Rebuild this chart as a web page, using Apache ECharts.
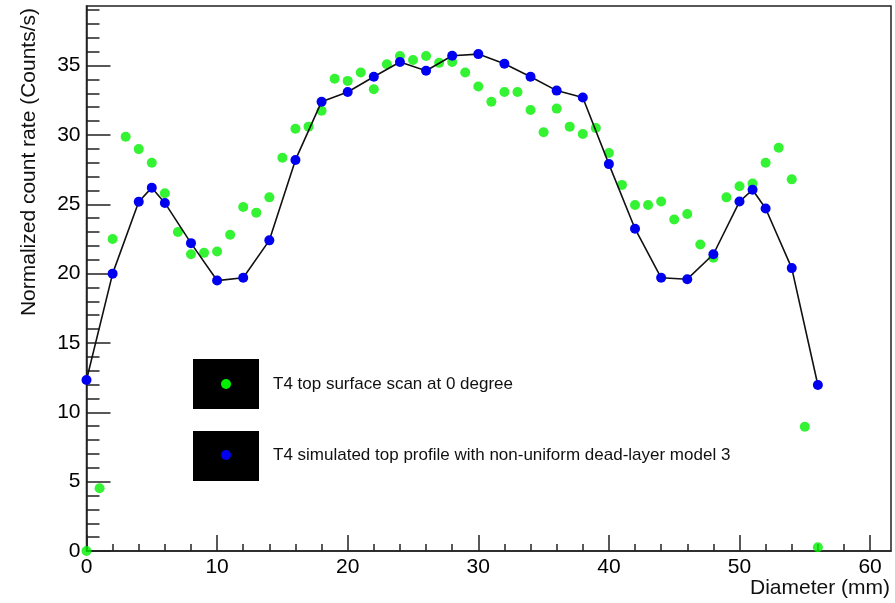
<!DOCTYPE html>
<html>
<head>
<meta charset="utf-8">
<script src="https://cdn.jsdelivr.net/npm/echarts@6/dist/echarts.min.js"></script>
<style>
  html, body { margin: 0; padding: 0; background: #fff; }
  #main { width: 895px; height: 603px; }
</style>
</head>
<body>
<div id="main"></div>
<script>
// 数据: 测量点 (绿色) 和模拟点 (蓝色)
var scanX = [0, 1, 2, 3, 4, 5, 6, 7, 8, 9, 10, 11, 12, 13, 14, 15, 16, 17, 18, 19,
  20, 21, 22, 23, 24, 25, 26, 27, 28, 29, 30, 31, 32, 33, 34, 35, 36, 37, 38, 39,
  40, 41, 42, 43, 44, 45, 46, 47, 48, 49, 50, 51, 52, 53, 54, 55, 56]
var scanY = [0, 4.52, 22.5, 29.87, 28.98, 28.0, 25.8, 23.0, 21.4, 21.5, 21.6, 22.8, 24.8, 24.4, 25.5, 28.36, 30.45, 30.6, 31.75, 34.05,
  33.9, 34.5, 33.3, 35.1, 35.7, 35.4, 35.7, 35.2, 35.26, 34.5, 33.5, 32.4, 33.1, 33.1, 31.8, 30.2, 31.9, 30.6, 30.07, 30.5,
  28.7, 26.4, 24.95, 24.95, 25.2, 23.9, 24.3, 22.1, 21.15, 25.5, 26.3, 26.5, 28.0, 29.08, 26.8, 8.96, 0.27]
var simX = [0, 2, 4, 5, 6, 8, 10, 12, 14, 16, 18, 20, 22, 24, 26, 28, 30, 32, 34, 36, 38,
  40, 42, 44, 46, 48, 50, 51, 52, 54, 56]
var simY = [12.33, 20.0, 25.18, 26.2, 25.1, 22.2, 19.5, 19.7, 22.4, 28.2, 32.4, 33.1, 34.2, 35.26, 34.63, 35.71, 35.83, 35.13, 34.2, 33.2, 32.7,
  27.9, 23.24, 19.7, 19.6, 21.4, 25.2, 26.05, 24.7, 20.4, 11.97]

// 刻度
var xMajor = [0, 10, 20, 30, 40, 50, 60]
var xMinor = [2, 4, 6, 8, 12, 14, 16, 18, 22, 24, 26, 28, 32, 34, 36, 38, 42, 44, 46, 48, 52, 54, 56, 58]
var yMajor = [0, 5, 10, 15, 20, 25, 30, 35]
var yMinor = [1, 2, 3, 4, 6, 7, 8, 9, 11, 12, 13, 14, 16, 17, 18, 19, 21, 22, 23, 24,
  26, 27, 28, 29, 31, 32, 33, 34, 36, 37, 38, 39]

var legendNames = ['T4 top surface scan at 0 degree',
  'T4 simulated top profile with non-uniform dead-layer model 3']
var xTitle = 'Diameter (mm)'
var yTitle = 'Normalized count rate (Counts/s)'

var FONT = 'Liberation Sans, Arial, Helvetica, sans-serif'
var X_MAX = 61.6, Y_MAX = 39.3

function pairs(xs, ys) {
  var out = []
  for (var i = 0; i < xs.length; i++) {
    out.push([xs[i], ys[i]])
  }
  return out
}

function tickAxis(min, max, ticks, len, withLabel) {
  return {
    type: 'value',
    min: min,
    max: max,
    splitLine: { show: false },
    axisLine: { show: withLabel, onZero: false, lineStyle: { color: '#222', width: 1.5 } },
    axisTick: {
      show: true, inside: true, length: len, customValues: ticks,
      lineStyle: { color: '#222', width: 1.5 }
    },
    axisLabel: withLabel ? {
      show: true, customValues: ticks, color: '#000', fontSize: 21,
      fontFamily: FONT, margin: 6
    } : { show: false }
  }
}

var myChart = echarts.init(document.getElementById('main'))

var xa0 = tickAxis(0, X_MAX, xMajor, 16, true)
xa0.position = 'bottom'
var xa1 = tickAxis(0, X_MAX, xMinor, 7, false)
xa1.position = 'bottom'
var ya0 = tickAxis(0, Y_MAX, yMajor, 24, true)
ya0.position = 'left'
var ya1 = tickAxis(0, Y_MAX, yMinor, 13, false)
ya1.position = 'left'

myChart.setOption({
  animation: false,
  backgroundColor: '#fff',
  grid: {
    left: 86.5, right: 4, top: 6, bottom: 52,
    show: true, borderColor: '#222', borderWidth: 1.5,
    containLabel: false, outerBoundsMode: 'none'
  },
  xAxis: [xa0, xa1],
  yAxis: [ya0, ya1],
  series: [{
    name: legendNames[0],
    type: 'scatter',
    symbol: 'circle',
    symbolSize: 10,
    itemStyle: { color: '#00f000' },
    data: pairs(scanX, scanY),
    z: 2
  }, {
    name: legendNames[1],
    type: 'line',
    symbol: 'circle',
    symbolSize: 10,
    showAllSymbol: true,
    itemStyle: { color: '#0000f0', borderWidth: 0 },
    lineStyle: { color: '#111', width: 1.6 },
    data: pairs(simX, simY),
    z: 3
  }],
  graphic: [
    { type: 'rect', shape: { x: 193, y: 359, width: 66, height: 50 }, style: { fill: '#000' } },
    { type: 'circle', shape: { cx: 226, cy: 384, r: 5 }, style: { fill: '#00f000' } },
    { type: 'text', x: 273, y: 384, style: { text: legendNames[0], fill: '#111', font: '17px ' + FONT, verticalAlign: 'middle' } },
    { type: 'rect', shape: { x: 193, y: 431, width: 66, height: 50 }, style: { fill: '#000' } },
    { type: 'circle', shape: { cx: 226, cy: 455, r: 5 }, style: { fill: '#0000f0' } },
    { type: 'text', x: 273, y: 455, style: { text: legendNames[1], fill: '#111', font: '17px ' + FONT, verticalAlign: 'middle' } },
    { type: 'text', x: 890, y: 588, style: { text: xTitle, fill: '#111', font: '21px ' + FONT, align: 'right', verticalAlign: 'middle' } },
    { type: 'text', x: 29, y: 8, rotation: Math.PI / 2, style: { text: yTitle, fill: '#111', font: '21px ' + FONT, align: 'right', verticalAlign: 'middle' } }
  ]
})
</script>
</body>
</html>
